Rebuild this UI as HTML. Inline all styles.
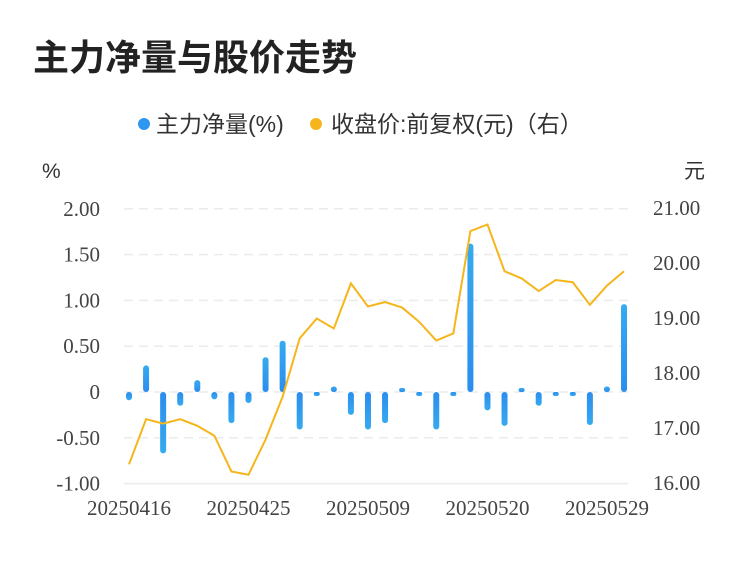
<!DOCTYPE html>
<html><head><meta charset="utf-8"><style>
body{margin:0;background:#fff;width:750px;height:558px;overflow:hidden}
</style></head><body>
<svg id="c" width="750" height="558" xmlns="http://www.w3.org/2000/svg">
<defs><linearGradient id="g" x1="0" y1="0" x2="0" y2="1"><stop offset="0" stop-color="#36aaf0"/><stop offset="1" stop-color="#2b8ded"/></linearGradient>
<linearGradient id="g2" x1="0" y1="0" x2="0" y2="1"><stop offset="0" stop-color="#2b8ded"/><stop offset="1" stop-color="#36aaf0"/></linearGradient></defs>
<text x="33" y="70" font-size="36" font-weight="bold" fill="#222" font-family="'Liberation Sans','Noto Sans CJK SC',sans-serif">主力净量与股价走势</text>
<g font-family="'Liberation Sans','Noto Sans CJK SC',sans-serif" font-size="23" fill="#333">
<circle cx="144" cy="124" r="6" fill="#2f96ef"/>
<text x="156" y="132">主力净量(%)</text>
<circle cx="316" cy="124" r="6" fill="#f5b51b"/>
<text x="331" y="132">收盘价:前复权(元)（右）</text>
</g>
<text x="42" y="178" font-size="21" fill="#333" font-family="'Liberation Sans','Noto Sans CJK SC',sans-serif">%</text>
<text x="684" y="178" font-size="21" fill="#333" font-family="'Liberation Sans','Noto Sans CJK SC',sans-serif">元</text>
<g id="grid"></g><g id="bars"></g><g id="line"></g><g id="labels" font-family="'Liberation Serif',serif" font-size="21" fill="#444"></g>
</svg>
<script>
const dates=["20250416","20250417","20250418","20250421","20250422","20250423","20250424","20250425","20250428","20250429","20250430","20250506","20250507","20250508","20250509","20250512","20250513","20250514","20250515","20250516","20250519","20250520","20250521","20250522","20250523","20250526","20250527","20250528","20250529","20250530"];
const netVolume=[-0.09,0.29,-0.67,-0.15,0.13,-0.08,-0.34,-0.12,0.38,0.56,-0.41,-0.04,0.06,-0.25,-0.41,-0.34,0.04,-0.01,-0.41,-0.02,1.62,-0.2,-0.37,0.02,-0.15,-0.01,-0.02,-0.36,0.06,0.96];
const closePrice=[16.34,17.16,17.08,17.16,17.04,16.86,16.21,16.15,16.79,17.57,18.63,18.99,18.81,19.63,19.21,19.29,19.19,18.93,18.59,18.72,20.58,20.70,19.85,19.72,19.49,19.69,19.65,19.24,19.59,19.85];
const leftTicks=[2,1.5,1,0.5,0,-0.5,-1];
const leftTickLabels=["2.00","1.50","1.00","0.50","0","-0.50","-1.00"];
const rightTicks=[21,20,19,18,17,16];
const rightTickLabels=["21.00","20.00","19.00","18.00","17.00","16.00"];
const xLabelIdx=[0,7,14,21,28];
const NS="http://www.w3.org/2000/svg";
const yL=v=>392-v*91.6, yR=v=>208+(21-v)*55, xI=i=>129+i*17.07;
function mk(t,a,p){const e=document.createElementNS(NS,t);for(const k in a)e.setAttribute(k,a[k]);p.appendChild(e);return e;}
const grid=document.getElementById('grid'),labels=document.getElementById('labels'),bars=document.getElementById('bars'),line=document.getElementById('line');
leftTicks.forEach((v,i)=>{
 const l=mk('line',{x1:124,x2:628,y1:yL(v),y2:yL(v),stroke:'#ebebeb','stroke-width':1.5,'stroke-dasharray':v===-1?'':'9,6'},grid);
 
 
 const t=mk('text',{x:100,y:yL(v)+7,'text-anchor':'end'},labels);t.textContent=leftTickLabels[i];
 
 
});
rightTicks.forEach((v,i)=>{
 const t=mk('text',{x:653,y:yR(v)+7},labels);t.textContent=rightTickLabels[i];
 
 
});
xLabelIdx.forEach(i=>{
 const t=mk('text',{x:xI(i),y:515,'text-anchor':'middle'},labels);t.textContent=dates[i];
 
 
});
netVolume.forEach((v,i)=>{
 const y0=yL(0),y1=yL(v),top=Math.min(y0,y1),h=Math.max(Math.abs(y1-y0),4);
 const r=mk('rect',{x:xI(i)-3,y:v>=0?Math.min(top,y0-h):y0,width:6,height:h,rx:Math.min(3,h/2),fill:v>=0?'url(#g)':'url(#g2)'},bars);
 
 
});
const p=mk('polyline',{points:closePrice.map((v,i)=>xI(i)+','+yR(v)).join(' '),fill:'none',stroke:'#f5b51b','stroke-width':2},line);


</script>
</body></html>
